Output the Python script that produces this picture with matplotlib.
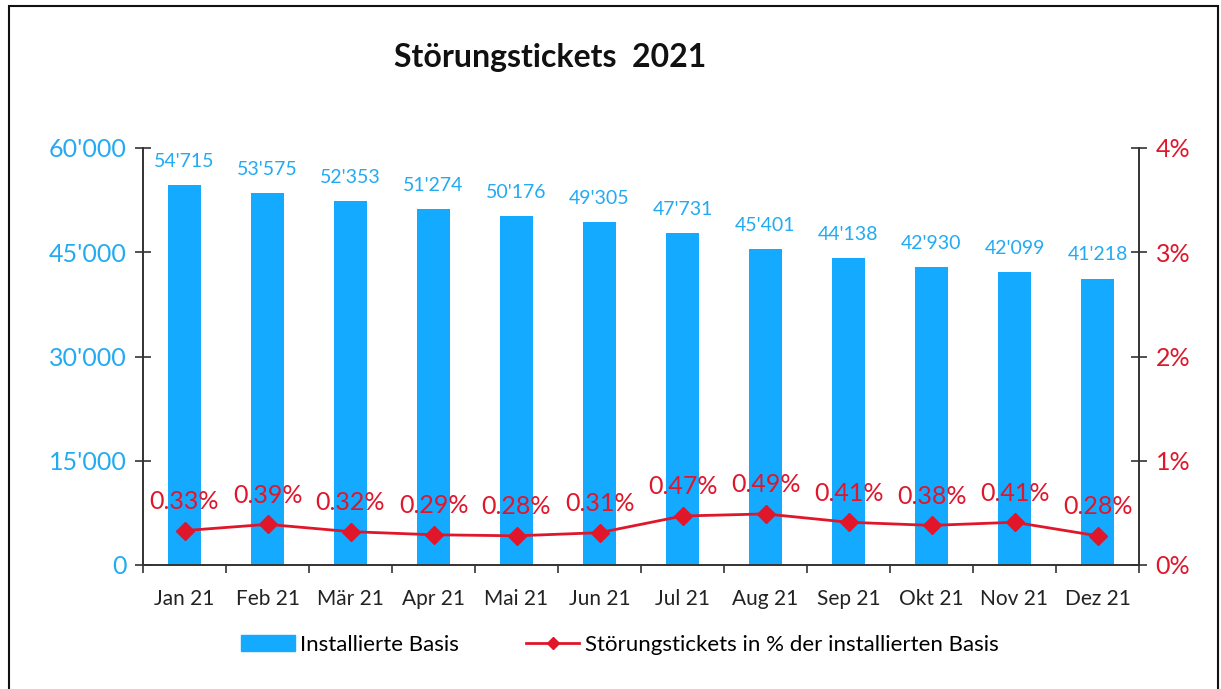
import numpy as np
import matplotlib.pyplot as plt
from matplotlib.patches import Rectangle
from matplotlib.lines import Line2D
from matplotlib.ticker import FixedLocator, FuncFormatter

plt.rcParams["font.family"] = ["Lato", "DejaVu Sans"]

BLUE = "#13AAFF"
BLUE_TXT = "#22AAF2"
RED = "#E0162B"

months = ["Jan 21", "Feb 21", "Mär 21", "Apr 21", "Mai 21", "Jun 21",
          "Jul 21", "Aug 21", "Sep 21", "Okt 21", "Nov 21", "Dez 21"]
basis = [54715, 53575, 52353, 51274, 50176, 49305,
         47731, 45401, 44138, 42930, 42099, 41218]
pct = [0.33, 0.39, 0.32, 0.29, 0.28, 0.31,
       0.47, 0.49, 0.41, 0.38, 0.41, 0.28]


def apos(v):
    return f"{v:,.0f}".replace(",", "'")


fig = plt.figure(figsize=(12.21, 6.89), dpi=100)
ax = fig.add_axes([143 / 1221, 1 - 565 / 689, 996 / 1221, 417 / 689])
ax2 = ax.twinx()

x = np.arange(len(months))
ax.bar(x, basis, width=0.4, color=BLUE, zorder=2)
for xi, v in zip(x, basis):
    ax.annotate(apos(v), (xi, v), xytext=(0, 17), textcoords="offset points",
                ha="center", va="center", fontsize=14, color=BLUE_TXT)

ax2.plot(x, pct, color=RED, lw=2, marker="D", ms=9, zorder=3)
for xi, v in zip(x, pct):
    ax2.annotate(f"{v:.2f}%", (xi, v), xytext=(0, 21), textcoords="offset points",
                 ha="center", va="center", fontsize=18, color=RED)

ax.set_xlim(-0.5, len(months) - 0.5)
ax.set_ylim(0, 60000)
ax2.set_ylim(0, 4)

ax.set_yticks([0, 15000, 30000, 45000, 60000])
ax.yaxis.set_major_formatter(FuncFormatter(lambda v, p: apos(v)))
ax2.set_yticks([0, 1, 2, 3, 4])
ax2.yaxis.set_major_formatter(FuncFormatter(lambda v, p: f"{int(v)}%"))

ax.set_xticks(x)
ax.set_xticklabels(months)
ax.xaxis.set_minor_locator(FixedLocator(np.arange(-0.5, len(months), 1.0)))
ax.tick_params(axis="x", which="major", length=0, pad=17, labelsize=15,
               labelcolor="#222222")
ax.tick_params(axis="x", which="minor", length=6, width=1.2, direction="out",
               color="#333333")
ax.tick_params(axis="y", direction="inout", length=12, width=1.2,
               color="#333333", labelsize=18, labelcolor=BLUE_TXT, pad=6)
ax2.tick_params(axis="y", direction="inout", length=12, width=1.2,
                color="#333333", labelsize=18, labelcolor=RED, pad=6)

for a in (ax, ax2):
    a.spines["top"].set_visible(False)
    for s in ("left", "right", "bottom"):
        a.spines[s].set_color("#333333")
        a.spines[s].set_linewidth(1.2)

fig.text(550 / 1221, 1 - 57 / 689, "Störungstickets  2021", ha="center",
         va="center", fontsize=23, fontweight="bold", color="#111111")

handles = [Rectangle((0, 0), 1, 1, color=BLUE),
           Line2D([], [], color=RED, lw=2, marker="D", ms=6)]
fig.legend(handles, ["Installierte Basis",
                     "Störungstickets in % der installierten Basis"],
           loc="center", bbox_to_anchor=(620 / 1221, 1 - 645 / 689), ncol=2,
           frameon=False, fontsize=16, handlelength=2.4, handletextpad=0.25,
           columnspacing=3.0)

fig.patches.append(Rectangle((9 / 1221, -0.02), 1209 / 1221, 1.02 - 6 / 689,
                             transform=fig.transFigure, fill=False,
                             edgecolor="#111111", lw=1.5))

fig.savefig("out.png", dpi=100)
